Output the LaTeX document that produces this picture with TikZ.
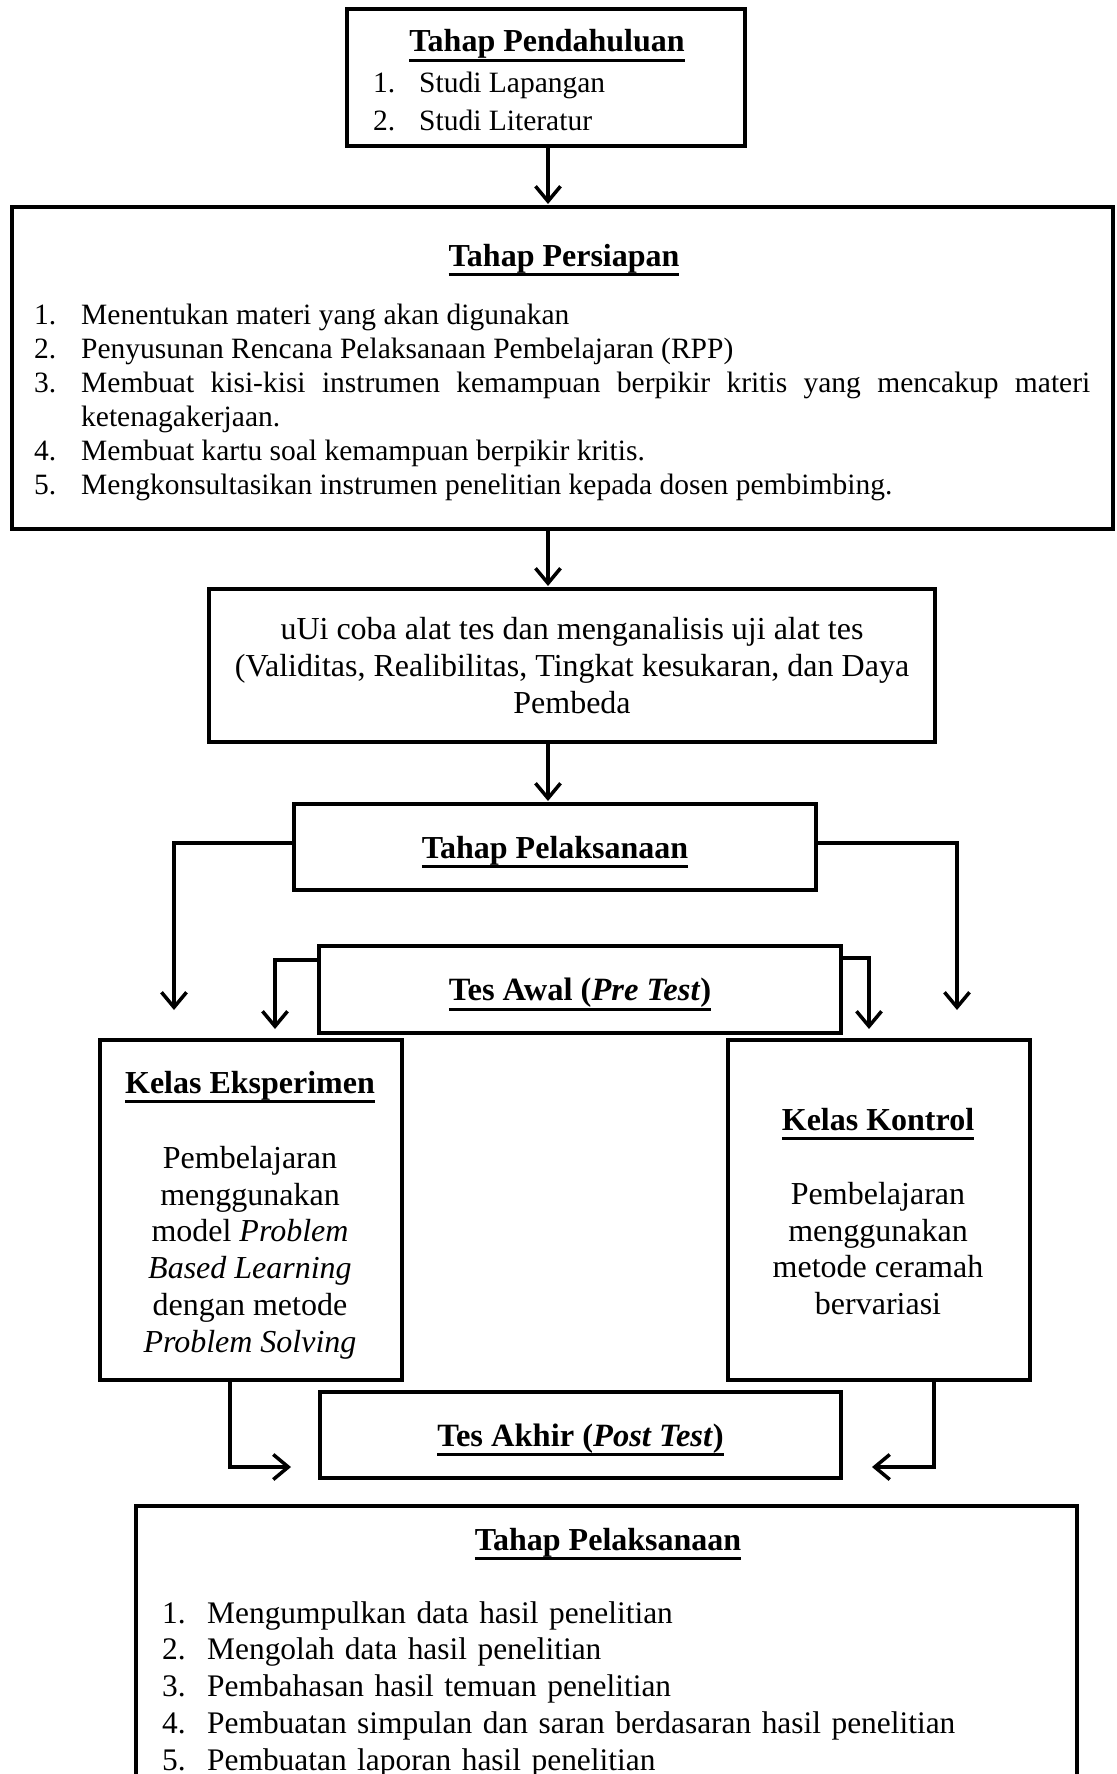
\documentclass[tikz,border=0pt]{standalone}
\usepackage{fontspec}
\setmainfont{Liberation Serif}
\usetikzlibrary{arrows.meta}
\newcommand\lstitem[2]{\par\hangindent=#1\hangafter=1\noindent\makebox[#1][l]{\rule{0pt}{24pt}#2}\ignorespaces}
\newcommand\myul[1]{\leavevmode\setbox0\hbox{#1}\rlap{\rule[-10pt]{\wd0}{2.6pt}}\box0}
\begin{document}
\begin{tikzpicture}[x=1pt,y=-1pt,
  box/.style={draw, line width=4pt, inner sep=0pt, align=center},
  arr/.style={line width=3.5pt, shorten >=1pt, -{Straight Barb[length=15pt,width=25pt]}},
  fA/.style={font=\fontsize{29.5}{34}\selectfont},
  fB/.style={font=\fontsize{32}{36.8}\selectfont},
  fC/.style={font=\fontsize{31.4}{36.8}\selectfont},
  fBb/.style={font=\fontsize{32}{36.8}\selectfont\bfseries},
  fT/.style={font=\fontsize{32.5}{36}\selectfont\bfseries, text height=22pt, text depth=0pt},
  ttl/.style={anchor=base, inner sep=0pt}]
\useasboundingbox (0,0) rectangle (1116,1774);
\clip (0,0) rectangle (1116,1774);

% boxes
\node[box, minimum width=398pt, minimum height=137pt] (b1) at (546,77.5) {};
\node[box, minimum width=1101pt, minimum height=322pt] (b2) at (562.5,368) {};
\node[box, minimum width=726pt, minimum height=153pt, fB] (b3) at (572,665.5)
  {uUi coba alat tes dan menganalisis uji alat tes\\(Validitas, Realibilitas, Tingkat kesukaran, dan Daya\\Pembeda};
\node[box, minimum width=522pt, minimum height=86pt, fT, font=\fontsize{32}{36}\selectfont\bfseries] (b4) at (555,847)
  {\myul{Tahap Pelaksanaan}};
\node[box, minimum width=522pt, minimum height=87pt, fT] (b5) at (580,989.5)
  {\myul{Tes Awal (\textit{Pre Test})}};
\node[box, minimum width=302pt, minimum height=340pt] (b6) at (251,1210) {};
\node[box, minimum width=302pt, minimum height=340pt] (b7) at (879,1210) {};
\node[box, minimum width=521pt, minimum height=86pt, fT] (b8) at (580.5,1435)
  {\myul{Tes Akhir (\textit{Post Test})}};
\node[box, minimum width=941pt, minimum height=310pt] (b9) at (606.5,1661) {};

% texts box 1
\node[ttl, fBb] (t1) at (547,52) {\myul{Tahap Pendahuluan}};
\node[anchor=base west, inner sep=0pt, fA] (t1n1) at (373,93) {1.};
\node[anchor=base west, inner sep=0pt, fA] (t1i1) at (419,93) {Studi Lapangan};
\node[anchor=base west, inner sep=0pt, fA] (t1n2) at (373,131) {2.};
\node[anchor=base west, inner sep=0pt, fA] (t1i2) at (419,131) {Studi Literatur};

% texts box 2
\node[ttl, fBb] (t2) at (564,266) {\myul{Tahap Persiapan}};
\node[anchor=north west, inner sep=0pt, text width=1056pt, align=justify, fA] (t2l) at (34,290)
  {\hyphenpenalty=10000\exhyphenpenalty=10000%
   \lstitem{47pt}{1.}Menentukan materi yang akan digunakan
   \lstitem{47pt}{2.}Penyusunan Rencana Pelaksanaan Pembelajaran (RPP)
   \lstitem{47pt}{3.}Membuat kisi-kisi instrumen kemampuan berpikir kritis yang mencakup materi\linebreak ketenagakerjaan.
   \lstitem{47pt}{4.}Membuat kartu soal kemampuan berpikir kritis.
   \lstitem{47pt}{5.}Mengkonsultasikan instrumen penelitian kepada dosen pembimbing.\par};

% box 6
\node[ttl, fBb] (t6) at (250,1093) {\myul{Kelas Eksperimen}};
\node[anchor=north, inner sep=0pt, align=center, fB] (t6b) at (250,1144)
  {\rule{0pt}{24pt}Pembelajaran\\menggunakan\\model \textit{Problem}\\\textit{Based Learning}\\dengan metode\\\textit{Problem Solving}};
% box 7
\node[ttl, fBb] (t7) at (878,1130) {\myul{Kelas Kontrol}};
\node[anchor=north, inner sep=0pt, align=center, fB] (t7b) at (878,1180)
  {\rule{0pt}{24pt}Pembelajaran\\menggunakan\\metode ceramah\\bervariasi};

% box 9
\node[ttl, fBb] (t9) at (608,1550) {\myul{Tahap Pelaksanaan}};
\node[anchor=north west, inner sep=0pt, text width=900pt, align=left, fC] (t9l) at (162,1586)
  {%
   \lstitem{45pt}{1.}Mengumpulkan data hasil penelitian
   \lstitem{45pt}{2.}Mengolah data hasil penelitian
   \lstitem{45pt}{3.}Pembahasan hasil temuan penelitian
   \lstitem{45pt}{4.}Pembuatan simpulan dan saran berdasaran hasil penelitian
   \lstitem{45pt}{5.}Pembuatan laporan hasil penelitian\par};

% connectors
\coordinate (ax) at (548,0);
\draw[arr] (b1.south -| ax) -- (b2.north -| ax);
\draw[arr] (b2.south -| ax) -- (b3.north -| ax);
\draw[arr] (b3.south -| ax) -- (b4.north -| ax);
\coordinate (l1) at (174,1011);
\coordinate (r1) at (957,1011);
\draw[arr] ([yshift=4pt]b4.west) -| (l1);
\draw[arr] ([yshift=4pt]b4.east) -| (r1);
\coordinate (l2) at (275,1030);
\coordinate (r2) at (869,1030);
\draw[arr] ([yshift=-16pt]b5.north west) -| (l2);
\draw[arr] ([yshift=-14pt]b5.north east) -| (r2);
\coordinate (c6) at (230,0);
\coordinate (c7) at (934,0);
\coordinate (l3) at (292,1467);
\coordinate (r3) at (871,1467);
\draw[arr] (b6.south -| c6) |- (l3);
\draw[arr] (b7.south -| c7) |- (r3);
\end{tikzpicture}
\end{document}
